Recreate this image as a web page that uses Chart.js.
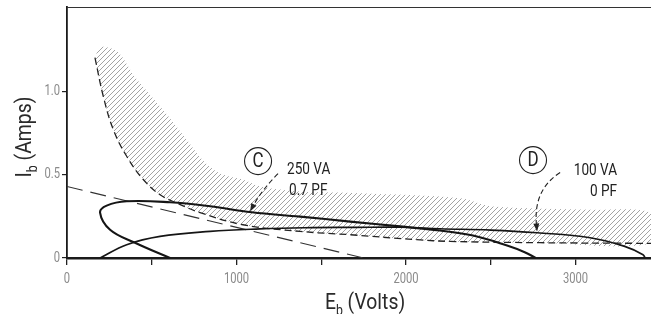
<!DOCTYPE html>
<html lang="en">
<head>
  <meta charset="UTF-8" />
  <title>Plate current vs plate voltage</title>
  <script src="https://cdn.jsdelivr.net/npm/chart.js"></script>
  <style>
    html, body { margin: 0; padding: 0; background: #fff; }
    #wrap { width: 651px; height: 314px; }
  </style>
</head>
<body>
<div id="wrap"><canvas id="chart" width="651" height="314"></canvas></div>
<script>
  // axis ticks
  const xTicks = [0, 500, 1000, 1500, 2000, 2500, 3000];
  const xTickLabels = ['0', '', '1000', '', '2000', '', '3000'];
  const yTicks = [0, 0.5, 1.0];
  const yTickLabels = ['0', '0.5', '1.0'];

  // dissipation limit (dashed curve)
  const limitE = [165, 214, 273, 352, 450, 549, 647, 785, 1038, 1375, 1670, 2063, 2260, 2790, 3445];
  const limitI = [1.205, 0.973, 0.773, 0.612, 0.472, 0.381, 0.331, 0.273, 0.2, 0.16, 0.14, 0.11, 0.1, 0.092, 0.088];

  // upper edge of hatched zone
  const hatchTopE = [165, 200, 300, 400, 500, 600, 700, 800, 900, 1040, 1140, 1375, 1730, 2320, 2510, 3100, 3445];
  const hatchTopI = [1.21, 1.27, 1.24, 1.09, 0.97, 0.85, 0.72, 0.59, 0.51, 0.47, 0.43, 0.40, 0.39, 0.36, 0.31, 0.29, 0.27];

  // straight dashed line
  const lineE = [0, 1750];
  const lineI = [0.43, 0];

  // load ellipse C: 250 VA, 0.7 PF
  const loadCE = [608, 401, 254, 195, 234, 352, 608, 844, 1090, 1375, 1670, 1965, 2200, 2395, 2596, 2700, 2765];
  const loadCI = [0, 0.092, 0.17, 0.273, 0.315, 0.341, 0.335, 0.311, 0.275, 0.249, 0.219, 0.19, 0.165, 0.135, 0.075, 0.035, 0];

  // load ellipse D: 100 VA, 0 PF
  const loadDE = [195, 352, 549, 844, 1139, 1400, 1700, 1965, 2200, 2500, 2773, 3086, 3290, 3398, 3410];
  const loadDI = [0, 0.08, 0.13, 0.16, 0.175, 0.182, 0.184, 0.185, 0.176, 0.168, 0.152, 0.122, 0.07, 0.02, 0];

  const FONT = "Roboto, 'DejaVu Sans', sans-serif";

  const pts = (xs, ys) => xs.map((x, i) => ({ x: x, y: ys[i] }));

  // closed outline of the hatched zone: top edge, then limit curve back
  const hatchShape = pts(hatchTopE, hatchTopI)
    .concat(pts(limitE, limitI).reverse());

  function hatchPattern() {
    const c = document.createElement('canvas');
    c.width = 5; c.height = 5;
    const g = c.getContext('2d');
    g.strokeStyle = '#999';
    g.lineWidth = 0.9;
    g.beginPath();
    g.moveTo(-1, 6); g.lineTo(6, -1);
    g.moveTo(-1, 1); g.lineTo(1, -1);
    g.moveTo(4, 6); g.lineTo(6, 4);
    g.stroke();
    return g.createPattern(c, 'repeat');
  }

  const notes = {
    circles: [
      { text: 'C', E: 1127, I: 0.583 },
      { text: 'D', E: 2749, I: 0.589 }
    ],
    labels: [
      { text: '250 VA', E: 1298, I: 0.532, align: 'left' },
      { text: '0.7 PF', E: 1310, I: 0.405, align: 'left' },
      { text: '100 VA', E: 3245, I: 0.526, align: 'right' },
      { text: '0 PF', E: 3245, I: 0.40, align: 'right' }
    ],
    arrows: [
      { from: [1245, 0.508], ctrl: [1150, 0.411], to: [1080, 0.28] },
      { from: [2909, 0.514], ctrl: [2749, 0.411], to: [2773, 0.16] }
    ]
  };

  // condensed text: squeeze horizontally
  function narrowText(ctx, text, x, y, size, align, sx) {
    ctx.save();
    ctx.font = size + 'px ' + FONT;
    const w = ctx.measureText(text).width * sx;
    let left = x;
    if (align === 'center') left = x - w / 2;
    if (align === 'right') left = x - w;
    ctx.translate(left, y);
    ctx.scale(sx, 1);
    ctx.textAlign = 'left';
    ctx.fillText(text, 0, 0);
    ctx.restore();
    return w;
  }

  // text with a subscript part, centered on cx
  function drawSubText(ctx, main, sub, rest, cx, cy, size, sx) {
    const small = Math.round(size * 0.62);
    ctx.font = size + 'px ' + FONT;
    const w1 = ctx.measureText(main).width * sx;
    const w3 = ctx.measureText(rest).width * sx;
    ctx.font = small + 'px ' + FONT;
    const w2 = ctx.measureText(sub).width * sx;
    let x = cx - (w1 + w2 + w3) / 2;
    ctx.textBaseline = 'alphabetic';
    x += narrowText(ctx, main, x, cy, size, 'left', sx);
    x += narrowText(ctx, sub, x, cy + size * 0.25, small, 'left', sx);
    narrowText(ctx, rest, x, cy, size, 'left', sx);
  }

  const extras = {
    id: 'extras',
    afterDraw(chart) {
      const ctx = chart.ctx;
      const a = chart.chartArea;
      const xs = chart.scales.x, ys = chart.scales.y;
      ctx.save();

      // top frame line
      ctx.strokeStyle = '#333';
      ctx.lineWidth = 1;
      ctx.beginPath();
      ctx.moveTo(a.left, a.top + 0.5);
      ctx.lineTo(a.right, a.top + 0.5);
      ctx.stroke();

      // tick labels
      ctx.fillStyle = '#8a8a8a';
      ctx.textBaseline = 'middle';
      xTicks.forEach((v, i) => {
        narrowText(ctx, xTickLabels[i], xs.getPixelForValue(v), 279, 14, 'center', 0.8);
      });
      yTicks.forEach((v, i) => {
        narrowText(ctx, yTickLabels[i], 60, ys.getPixelForValue(v), 14, 'right', 0.8);
      });

      // axis titles
      ctx.fillStyle = '#2a2a2a';
      drawSubText(ctx, 'E', 'b', ' (Volts)', 365, 309, 22, 0.88);
      ctx.save();
      ctx.translate(31, 137);
      ctx.rotate(-Math.PI / 2);
      drawSubText(ctx, 'I', 'b', ' (Amps)', 0, 0, 22, 0.88);
      ctx.restore();

      // circled letters
      ctx.strokeStyle = '#222';
      ctx.fillStyle = '#222';
      ctx.lineWidth = 1.1;
      notes.circles.forEach(c => {
        const px = xs.getPixelForValue(c.E), py = ys.getPixelForValue(c.I);
        ctx.beginPath();
        ctx.arc(px, py, 13.5, 0, Math.PI * 2);
        ctx.stroke();
        ctx.textBaseline = 'middle';
        narrowText(ctx, c.text, px, py + 1, 20, 'center', 0.85);
      });

      // labels
      ctx.textBaseline = 'middle';
      notes.labels.forEach(l => {
        narrowText(ctx, l.text, xs.getPixelForValue(l.E), ys.getPixelForValue(l.I), 17, l.align, 0.8);
      });

      // dashed arrows
      notes.arrows.forEach(ar => {
        const p0 = [xs.getPixelForValue(ar.from[0]), ys.getPixelForValue(ar.from[1])];
        const p1 = [xs.getPixelForValue(ar.ctrl[0]), ys.getPixelForValue(ar.ctrl[1])];
        const p2 = [xs.getPixelForValue(ar.to[0]), ys.getPixelForValue(ar.to[1])];
        const ang = Math.atan2(p2[1] - p1[1], p2[0] - p1[0]);
        const back = [p2[0] - 6 * Math.cos(ang), p2[1] - 6 * Math.sin(ang)];
        ctx.setLineDash([5, 3]);
        ctx.lineWidth = 1.1;
        ctx.beginPath();
        ctx.moveTo(p0[0], p0[1]);
        ctx.quadraticCurveTo(p1[0], p1[1], back[0], back[1]);
        ctx.stroke();
        ctx.setLineDash([]);
        ctx.beginPath();
        ctx.moveTo(p2[0], p2[1]);
        ctx.lineTo(p2[0] - 8 * Math.cos(ang) + 3 * Math.sin(ang), p2[1] - 8 * Math.sin(ang) - 3 * Math.cos(ang));
        ctx.lineTo(p2[0] - 8 * Math.cos(ang) - 3 * Math.sin(ang), p2[1] - 8 * Math.sin(ang) + 3 * Math.cos(ang));
        ctx.closePath();
        ctx.fill();
      });

      ctx.restore();
    }
  };

  const lineStyle = { showLine: true, pointRadius: 0, fill: false, order: 1 };

  new Chart(document.getElementById('chart'), {
    type: 'scatter',
    data: {
      datasets: [
        Object.assign({}, lineStyle, {
          label: 'Load C', data: pts(loadCE, loadCI),
          borderColor: '#151515', borderWidth: 2.1, tension: 0.4
        }),
        Object.assign({}, lineStyle, {
          label: 'Load D', data: pts(loadDE, loadDI),
          borderColor: '#151515', borderWidth: 1.7, tension: 0.4
        }),
        Object.assign({}, lineStyle, {
          label: 'Limit', data: pts(limitE, limitI),
          borderColor: '#222', borderWidth: 1.3, borderDash: [7, 4], tension: 0.4
        }),
        Object.assign({}, lineStyle, {
          label: 'Line', data: pts(lineE, lineI),
          borderColor: '#333', borderWidth: 1.1, borderDash: [16, 8], tension: 0
        }),
        {
          label: 'Zone', data: hatchShape, showLine: true, pointRadius: 0,
          borderWidth: 0, borderColor: 'rgba(0,0,0,0)',
          backgroundColor: hatchPattern(), fill: 'shape', tension: 0.3, order: 10
        }
      ]
    },
    options: {
      responsive: false,
      animation: false,
      events: [],
      layout: { padding: { top: 7, right: 0, left: 0, bottom: 0 } },
      plugins: { legend: { display: false }, tooltip: { enabled: false } },
      scales: {
        x: {
          type: 'linear', min: 0, max: 3445,
          afterBuildTicks: axis => { axis.ticks = xTicks.map(v => ({ value: v })); },
          afterFit: scale => { scale.height = 56; scale.paddingLeft = 0; scale.paddingRight = 0; },
          ticks: { display: false },
          grid: { drawOnChartArea: false, drawTicks: true, tickLength: 7, color: '#222', lineWidth: 1.3 },
          border: { display: true, color: '#1a1a1a', width: 2.6 }
        },
        y: {
          type: 'linear', min: 0, max: 1.51,
          afterBuildTicks: axis => { axis.ticks = yTicks.map(v => ({ value: v })); },
          afterFit: scale => { scale.width = 67; scale.paddingTop = 0; scale.paddingBottom = 0; },
          ticks: { display: false },
          grid: { drawOnChartArea: false, drawTicks: true, tickLength: 5, color: '#222', lineWidth: 1.2 },
          border: { display: true, color: '#1a1a1a', width: 1.8 }
        }
      }
    },
    plugins: [extras]
  });
</script>
</body>
</html>
